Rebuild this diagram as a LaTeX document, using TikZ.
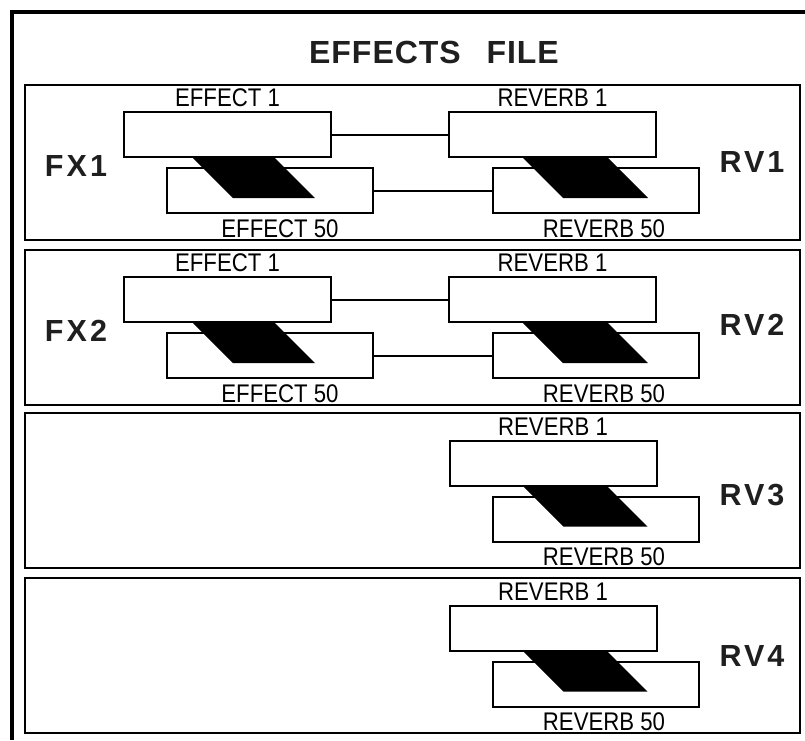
\documentclass[tikz,border=0pt]{standalone}
\usepackage{fontspec}
\setmainfont{Liberation Sans}
\newfontfamily\slotfont[FakeStretch=0.87]{Liberation Sans}
\newfontfamily\tagfont[LetterSpace=10]{Liberation Sans Bold}
\newfontfamily\headfont[LetterSpace=3]{Liberation Sans Bold}
\usetikzlibrary{positioning}

\begin{document}
\begin{tikzpicture}[
  x=1pt,
  y=-1pt,
  every node/.style={inner sep=0pt},
  frame/.style={line width=4pt},
  panel/.style={line width=2.4pt},
  slot/.style={draw,line width=2pt,fill=white,minimum width=207pt,minimum height=45pt},
  lowslot/.style={slot,minimum width=206pt},
  link/.style={line width=2pt},
  wedge/.style={fill=black},
  slotlabel/.style={font=\slotfont\fontsize{25.5}{25}\selectfont},
  tag/.style={font=\tagfont\fontsize{30.5}{30}\selectfont,text=black!88},
  heading/.style={font=\headfont\fontsize{32}{32}\selectfont,text=black!88}
]
% Bounding box.
\useasboundingbox (0,0) rectangle (805,740);
% Outer frame, cut off at the right and at the bottom.
\draw[frame] (805,12) -- (12,12) -- (12,740);
\node[heading] (title) at (434,52.5) {EFFECTS\hspace{16pt} FILE};

% FX1 / RV1.
\begin{scope}[shift={(0,85)}]
  \draw[panel] (25,0) rectangle (800,155);
  \node[slot] (fxtop1) at (227.5,49.5) {};
  \node[lowslot] (fxbot1) at (270,105.5) {};
  \node[slot] (rvtop1) at (552.5,49.5) {};
  \node[lowslot] (rvbot1) at (596,105.5) {};
  \fill[wedge] ([xshift=70pt]fxtop1.south west) -- ++(82,0) -- ++(40,40) -- ++(-82,0) -- cycle;
  \fill[wedge] ([xshift=75pt]rvtop1.south west) -- ++(85,0) -- ++(40,40) -- ++(-85,0) -- cycle;
  \draw[link] (fxtop1) -- (rvtop1);
  \draw[link] (fxbot1) -- (rvbot1);
  \node[slotlabel,above=4pt of fxtop1] (fxfirst1) {EFFECT 1};
  \node[slotlabel,below=5pt of fxbot1,xshift=10pt] (fxlast1) {EFFECT 50};
  \node[slotlabel,above=4pt of rvtop1] (rvfirst1) {REVERB 1};
  \node[slotlabel,below=5pt of rvbot1,xshift=8pt] (rvlast1) {REVERB 50};
  \node[tag] (fxtag1) at (76,81) {FX1};
  \node[tag] (rvtag1) at (752,77) {RV1};
\end{scope}

% FX2 / RV2.
\begin{scope}[shift={(0,250)}]
  \draw[panel] (25,0) rectangle (800,155);
  \node[slot] (fxtop2) at (227.5,49.5) {};
  \node[lowslot] (fxbot2) at (270,105.5) {};
  \node[slot] (rvtop2) at (552.5,49.5) {};
  \node[lowslot] (rvbot2) at (596,105.5) {};
  \fill[wedge] ([xshift=70pt]fxtop2.south west) -- ++(82,0) -- ++(40,40) -- ++(-82,0) -- cycle;
  \fill[wedge] ([xshift=75pt]rvtop2.south west) -- ++(85,0) -- ++(40,40) -- ++(-85,0) -- cycle;
  \draw[link] (fxtop2) -- (rvtop2);
  \draw[link] (fxbot2) -- (rvbot2);
  \node[slotlabel,above=4pt of fxtop2] (fxfirst2) {EFFECT 1};
  \node[slotlabel,below=5pt of fxbot2,xshift=10pt] (fxlast2) {EFFECT 50};
  \node[slotlabel,above=4pt of rvtop2] (rvfirst2) {REVERB 1};
  \node[slotlabel,below=5pt of rvbot2,xshift=8pt] (rvlast2) {REVERB 50};
  \node[tag] (fxtag2) at (76,81) {FX2};
  \node[tag] (rvtag2) at (752,75) {RV2};
\end{scope}

% RV3, reverb only.
\begin{scope}[shift={(0,413)}]
  \draw[panel] (25,0) rectangle (800,155);
  \node[slot] (rvtop3) at (553,50) {};
  \node[lowslot] (rvbot3) at (596,106) {};
  \fill[wedge] ([xshift=75pt]rvtop3.south west) -- ++(84,0) -- ++(40,40) -- ++(-84,0) -- cycle;
  \node[slotlabel,above=4pt of rvtop3] (rvfirst3) {REVERB 1};
  \node[slotlabel,below=5pt of rvbot3,xshift=8pt] (rvlast3) {REVERB 50};
  \node[tag] (rvtag3) at (752,82) {RV3};
\end{scope}

% RV4, reverb only.
\begin{scope}[shift={(0,578)}]
  \draw[panel] (25,0) rectangle (800,155);
  \node[slot] (rvtop4) at (553,50) {};
  \node[lowslot] (rvbot4) at (596,106) {};
  \fill[wedge] ([xshift=75pt]rvtop4.south west) -- ++(84,0) -- ++(40,40) -- ++(-84,0) -- cycle;
  \node[slotlabel,above=4pt of rvtop4] (rvfirst4) {REVERB 1};
  \node[slotlabel,below=5pt of rvbot4,xshift=8pt] (rvlast4) {REVERB 50};
  \node[tag] (rvtag4) at (752,78) {RV4};
\end{scope}
\end{tikzpicture}
\end{document}
